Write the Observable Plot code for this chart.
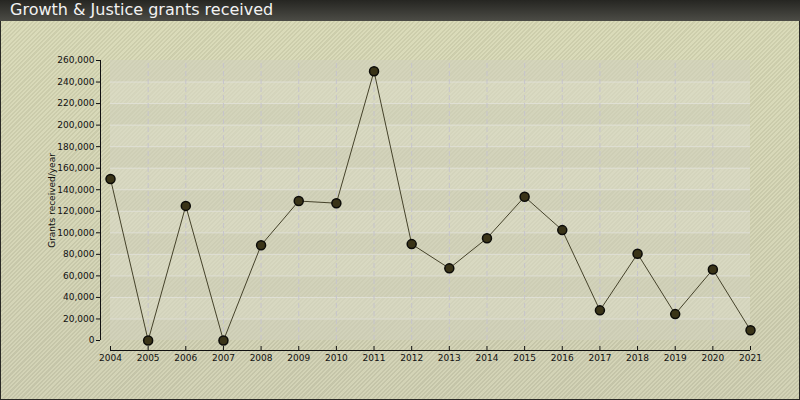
<!DOCTYPE html>
<html>
<head>
<meta charset="utf-8">
<script src="https://cdn.jsdelivr.net/npm/d3@7"></script>
<script src="https://cdn.jsdelivr.net/npm/@observablehq/plot@0.6"></script>
<style>
  body { margin: 0; }
  #wrap {
    position: relative; width: 800px; height: 400px; overflow: hidden;
    font-family: "DejaVu Sans", Verdana, sans-serif;
    background:
      repeating-linear-gradient(135deg, rgba(255,255,220,0.18) 0 1.5px, rgba(120,120,80,0.06) 1.5px 3px),
      linear-gradient(#d3d4b2, #c9c9ae);
    box-shadow: inset 0 0 0 1px #2a2a26;
  }
  #head {
    height: 21px; background: linear-gradient(#262622, #4c4c46);
    color: #f2f2f2; font-size: 16px; line-height: 20px; padding-left: 10px;
  }
</style>
</head>
<body>
<div id="wrap">
  <div id="head">Growth &amp; Justice grants received</div>
  <div id="chart"></div>
</div>
<script>
// values
const years = [2004, 2005, 2006, 2007, 2008, 2009, 2010, 2011, 2012, 2013, 2014, 2015, 2016, 2017, 2018, 2019, 2020, 2021];
const grants = [150000, 0, 125000, 0, 88500, 129500, 127500, 250000, 89500, 67000, 95000, 133500, 102500, 28000, 80500, 24500, 66000, 9500];
const yTicks = [0, 20000, 40000, 60000, 80000, 100000, 120000, 140000, 160000, 180000, 200000, 220000, 240000, 260000];

const data = years.map((year, i) => ({year, grants: grants[i]}));
// alternating horizontal bands between y ticks
const bands = yTicks.slice(0, -1).map((v, i) => ({y1: v, y2: yTicks[i + 1], odd: i % 2}));

const x0 = years[0], x1 = years[years.length - 1];

const chart = Plot.plot({
  width: 800,
  height: 379,
  marginLeft: 110,
  marginRight: 50,
  marginTop: 39,
  marginBottom: 60,
  style: {background: "transparent", fontFamily: "DejaVu Sans, Verdana, sans-serif", fontSize: "9px", color: "#111"},
  x: {domain: [x0, x1]},
  y: {domain: [0, yTicks[yTicks.length - 1]]},
  marks: [
    Plot.rect(bands, {x1: x0, x2: x1, y1: "y1", y2: "y2", fill: (d) => d.odd ? "#dadbc8" : "#d0d1bc", fillOpacity: 0.6}),
    Plot.ruleY(yTicks.slice(1, -1), {x1: x0, x2: x1, stroke: "#e0e0d6", strokeWidth: 1}),
    Plot.ruleX(years.slice(1, -1), {y1: 0, y2: yTicks[yTicks.length - 1], stroke: "#c6c4cc", strokeDasharray: "5,3", strokeWidth: 1}),
    Plot.axisY({ticks: yTicks, tickFormat: d3.format(","), tickSize: 4, tickPadding: 2, dx: -10,
      label: "Grants received/year", labelAnchor: "center", labelOffset: 62, labelArrow: false}),
    Plot.ruleX([x0], {y1: 0, y2: yTicks[yTicks.length - 1], dx: -10, stroke: "#111"}),
    Plot.axisX({ticks: years, tickFormat: d3.format("d"), tickSize: 4, tickPadding: 4, dy: 6, label: null}),
    Plot.ruleY([0], {x1: x0, x2: x1, dy: 10, stroke: "#111"}),
    Plot.line(data, {x: "year", y: "grants", stroke: "#45422a", strokeWidth: 1}),
    Plot.dot(data, {x: "year", y: "grants", r: 4.5, fill: "#3a3418", stroke: "#0c0c08", strokeWidth: 1.5})
  ]
});

d3.select("#chart").append(() => chart);
</script>
</body>
</html>
